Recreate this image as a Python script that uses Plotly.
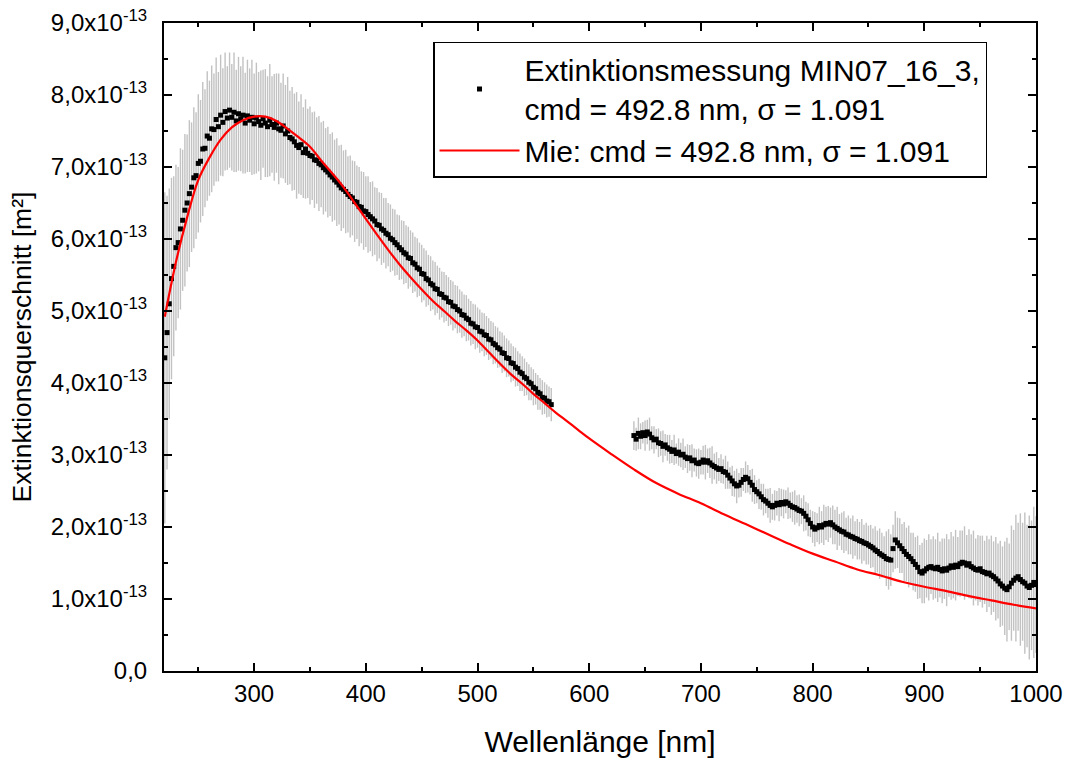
import plotly.graph_objects as go

# ---------------- data (values in units of 1e-13 m^2) ----------------
# Measurement, segment 1 (220 ... 566 nm, 2 nm steps)
wl_meas_1 = list(range(220, 567, 2))
ext_meas_1 = [
    4.35, 4.70, 5.10, 5.45, 5.62, 5.88, 5.95, 6.14, 6.26, 6.40,
    6.50, 6.63, 6.72, 6.85, 6.88, 7.05, 7.08, 7.25, 7.26, 7.43,
    7.40, 7.53, 7.52, 7.66, 7.56, 7.72, 7.62, 7.77, 7.68, 7.79,
    7.69, 7.76, 7.64, 7.74, 7.67, 7.72, 7.61, 7.71, 7.65, 7.69,
    7.60, 7.68, 7.63, 7.58, 7.67, 7.61, 7.56, 7.65, 7.59, 7.55,
    7.61, 7.53, 7.51, 7.57, 7.46, 7.50, 7.41, 7.39, 7.35, 7.30,
    7.27, 7.31, 7.20, 7.25, 7.19, 7.16, 7.15, 7.10, 7.09, 7.05,
    7.03, 6.99, 6.96, 6.93, 6.89, 6.86, 6.82, 6.79, 6.75, 6.71,
    6.69, 6.66, 6.62, 6.59, 6.57, 6.52, 6.51, 6.45, 6.44, 6.39,
    6.38, 6.34, 6.31, 6.28, 6.25, 6.20, 6.19, 6.14, 6.12, 6.08,
    6.06, 6.01, 5.99, 5.95, 5.92, 5.88, 5.85, 5.81, 5.79, 5.74,
    5.73, 5.67, 5.65, 5.60, 5.58, 5.52, 5.51, 5.45, 5.43, 5.38,
    5.36, 5.31, 5.30, 5.24, 5.23, 5.19, 5.18, 5.13, 5.12, 5.07,
    5.06, 5.02, 5.00, 4.95, 4.94, 4.90, 4.88, 4.83, 4.82, 4.78,
    4.77, 4.72, 4.71, 4.67, 4.66, 4.61, 4.60, 4.55, 4.53, 4.49,
    4.47, 4.42, 4.41, 4.35, 4.34, 4.28, 4.27, 4.22, 4.20, 4.15,
    4.13, 4.08, 4.06, 4.01, 3.99, 3.94, 3.92, 3.87, 3.85, 3.80,
    3.79, 3.75, 3.74, 3.70,
]
err_meas_1 = [
    2.3, 1.9, 1.6, 1.4, 1.25, 1.15,
    1.05, 1.12, 0.98, 1.06, 0.95, 1.02, 0.9, 0.98, 0.88, 0.96,
    0.85, 0.93, 0.82, 0.9, 0.8, 0.88, 0.78, 0.86, 0.76, 0.84,
    0.75, 0.82, 0.72, 0.8, 0.74, 0.83, 0.71, 0.79, 0.73, 0.81, 0.7, 0.78, 0.72, 0.8, 0.7,
    0.77, 0.69, 0.76, 0.68, 0.75, 0.7, 0.78, 0.67, 0.74, 0.69,
    0.77, 0.66, 0.73, 0.68, 0.75, 0.65, 0.72, 0.67, 0.74, 0.64,
    0.7, 0.63, 0.69, 0.62, 0.68, 0.61, 0.67, 0.6, 0.66, 0.59,
    0.65, 0.58, 0.63, 0.57, 0.62, 0.56, 0.61, 0.55, 0.6, 0.54,
    0.58, 0.53, 0.57, 0.52, 0.56, 0.51, 0.55, 0.5, 0.54, 0.49,
    0.53, 0.48, 0.52, 0.47, 0.51, 0.46, 0.5, 0.45, 0.49, 0.44,
    0.47, 0.43, 0.46, 0.42, 0.45, 0.41, 0.44, 0.4, 0.43, 0.39,
    0.42, 0.38, 0.41, 0.37, 0.4, 0.36, 0.39, 0.35, 0.38, 0.34,
    0.37, 0.33, 0.36, 0.32, 0.35, 0.32, 0.34, 0.31, 0.34, 0.3,
    0.33, 0.3, 0.32, 0.29, 0.32, 0.29, 0.31, 0.28, 0.31, 0.28,
    0.3, 0.27, 0.3, 0.27, 0.29, 0.26, 0.29, 0.26, 0.28, 0.25,
    0.28, 0.25, 0.27, 0.25, 0.27, 0.24, 0.27, 0.24, 0.26, 0.24,
    0.26, 0.23, 0.25, 0.23, 0.25, 0.22, 0.24, 0.22, 0.24, 0.22, 0.23, 0.21, 0.23,
]

# Measurement, segment 2 (640 ... 1000 nm, 2 nm steps)
wl_meas_2 = list(range(640, 1001, 2))
ext_meas_2 = [
    3.27, 3.22, 3.30, 3.26, 3.31, 3.27, 3.32, 3.29, 3.24, 3.21,
    3.22, 3.17, 3.16, 3.12, 3.14, 3.10, 3.08, 3.05, 3.07, 3.02,
    3.04, 3.00, 3.01, 2.97, 2.95, 2.96, 2.92, 2.93, 2.89, 2.88,
    2.90, 2.93, 2.90, 2.92, 2.89, 2.86, 2.84, 2.82, 2.80, 2.81,
    2.77, 2.76, 2.72, 2.68, 2.64, 2.60, 2.57, 2.58, 2.62, 2.66,
    2.69, 2.67, 2.62, 2.58, 2.52, 2.49, 2.46, 2.42, 2.38, 2.36,
    2.33, 2.30, 2.28, 2.30, 2.33, 2.31, 2.34, 2.32, 2.35, 2.33,
    2.30, 2.28, 2.27, 2.25, 2.23, 2.22, 2.19, 2.15, 2.10, 2.05,
    2.00, 1.97, 1.99, 2.02, 2.00, 2.03, 2.05, 2.04, 2.06, 2.03,
    2.00, 1.98, 1.96, 1.94, 1.93, 1.90, 1.89, 1.87, 1.86, 1.84,
    1.83, 1.81, 1.80, 1.78, 1.77, 1.75, 1.73, 1.71, 1.68, 1.66,
    1.63, 1.61, 1.59, 1.56, 1.55, 1.54, 1.70, 1.82, 1.78, 1.74,
    1.70, 1.66, 1.62, 1.59, 1.56, 1.52, 1.48, 1.44, 1.38, 1.36,
    1.39, 1.42, 1.44, 1.45, 1.43, 1.42, 1.44, 1.41, 1.39, 1.42,
    1.40, 1.43, 1.46, 1.44, 1.47, 1.45, 1.49, 1.51, 1.50, 1.47,
    1.49, 1.45, 1.43, 1.41, 1.40, 1.42, 1.38, 1.37, 1.35, 1.36,
    1.33, 1.31, 1.28, 1.25, 1.21, 1.18, 1.15, 1.13, 1.17, 1.22,
    1.26, 1.29, 1.31, 1.27, 1.24, 1.22, 1.18, 1.16, 1.19, 1.23,
    1.20,
]
err_meas_2 = [
    0.2, 0.16, 0.22, 0.18, 0.15, 0.21, 0.17, 0.23, 0.16, 0.19, 0.14, 0.2, 0.17, 0.22, 0.15, 0.18,
    0.2, 0.16, 0.21, 0.14, 0.19, 0.17, 0.22, 0.15, 0.2, 0.18, 0.23, 0.16, 0.19, 0.21, 0.17,
    0.2, 0.24, 0.17, 0.21, 0.26, 0.18, 0.22, 0.16, 0.2, 0.17, 0.23, 0.19, 0.15, 0.21, 0.18,
    0.24, 0.17, 0.2, 0.16, 0.22, 0.19, 0.17, 0.23, 0.2, 0.16, 0.21, 0.18, 0.22, 0.17, 0.2,
    0.24, 0.18, 0.21, 0.17, 0.23, 0.19, 0.2, 0.16, 0.22, 0.18, 0.21, 0.24, 0.19, 0.22, 0.18,
    0.25, 0.2, 0.23, 0.19, 0.22,
    0.24, 0.2, 0.26, 0.22, 0.28, 0.23, 0.25, 0.21, 0.27, 0.24, 0.3, 0.22, 0.26, 0.29, 0.23,
    0.27, 0.25, 0.3, 0.24, 0.28, 0.26, 0.31, 0.25, 0.29, 0.27,
    0.3, 0.27, 0.33, 0.29, 0.35, 0.31, 0.28, 0.38, 0.42, 0.36, 0.33, 0.4, 0.35, 0.38, 0.34,
    0.41, 0.37, 0.43, 0.36, 0.4, 0.38, 0.44, 0.37, 0.42, 0.45,
    0.4, 0.46, 0.38, 0.44, 0.41, 0.48, 0.39, 0.45, 0.42, 0.5, 0.4, 0.47, 0.43, 0.49, 0.41,
    0.46, 0.44, 0.51, 0.42, 0.48, 0.45, 0.52, 0.43, 0.49, 0.46,
    0.5, 0.44, 0.53, 0.47, 0.55, 0.49, 0.58, 0.52, 0.6, 0.55,
    0.65, 0.72, 0.6, 0.8, 0.7, 0.88, 0.75, 0.92, 0.82, 0.98, 0.85, 1.0, 0.9, 1.05, 0.95,
]

# Mie calculation
wl_mie = list(range(220, 601, 10)) + list(range(620, 1001, 20))
ext_mie = [
    4.92, 5.68, 6.30, 6.82, 7.13, 7.38, 7.55, 7.65, 7.70, 7.70,
    7.64, 7.53, 7.41, 7.28, 7.09, 6.91, 6.72, 6.50, 6.28, 6.06,
    5.85, 5.65, 5.47, 5.30, 5.14, 5.00, 4.86, 4.73, 4.59, 4.43,
    4.27, 4.12, 3.99, 3.85, 3.72, 3.59, 3.47, 3.35, 3.23,
    3.01, 2.80, 2.61, 2.46, 2.33, 2.18, 2.04, 1.90, 1.76, 1.63,
    1.52, 1.41, 1.33, 1.24, 1.17, 1.11, 1.04, 0.98, 0.92, 0.87,
]

y_tickvals = [0, 1, 2, 3, 4, 5, 6, 7, 8, 9]
y_ticktext = ["0,0"] + [f"{v},0x10<sup>-13</sup>" for v in range(1, 10)]

label_meas = "Extinktionsmessung MIN07_16_3,<br>cmd = 492.8 nm, σ = 1.091"
label_mie = "Mie: cmd = 492.8 nm, σ = 1.091"

for a, b in [(wl_meas_1, ext_meas_1), (wl_meas_1, err_meas_1),
             (wl_meas_2, ext_meas_2), (wl_meas_2, err_meas_2), (wl_mie, ext_mie)]:
    if len(a) != len(b):
        raise ValueError(f"length mismatch {len(a)} vs {len(b)}")

# ---------------- figure ----------------
fig = go.Figure()
meas_style = dict(
    mode="markers",
    marker=dict(symbol="square", size=5, color="black"),
    legendgroup="meas",
)
err_style = dict(type="data", color="#c2c2c2", thickness=1.4, width=0)
fig.add_trace(go.Scatter(
    x=wl_meas_1, y=ext_meas_1, name=label_meas,
    error_y=dict(array=err_meas_1, **err_style),
    showlegend=True, **meas_style))
fig.add_trace(go.Scatter(
    x=wl_meas_2, y=ext_meas_2, name=label_meas,
    error_y=dict(array=err_meas_2, **err_style),
    showlegend=False, **meas_style))
fig.add_trace(go.Scatter(
    x=wl_mie, y=ext_mie, name=label_mie, mode="lines",
    line=dict(color="#ff0000", width=2.2, shape="spline"),
))

axis_common = dict(
    showline=True, linewidth=2, linecolor="black", mirror="ticks",
    ticks="inside", ticklen=8, tickwidth=2, tickcolor="black",
    showgrid=False, zeroline=False, automargin=False,
    tickfont=dict(size=24, color="black"),
)
fig.update_xaxes(
    range=[219.3, 1000], tickmode="linear", tick0=0, dtick=100,
    minor=dict(ticks="inside", ticklen=4, tickwidth=2, tickcolor="black", dtick=50, tick0=0),
    title=dict(text="Wellenlänge [nm]", font=dict(size=30, color="black"), standoff=25),
    **axis_common,
)
fig.update_yaxes(
    range=[0, 9], tickmode="array", tickvals=y_tickvals, ticktext=y_ticktext,
    minor=dict(ticks="inside", ticklen=4, tickwidth=2, tickcolor="black", dtick=0.5, tick0=0),
    ticklabelstandoff=10,
    title=dict(text="Extinktionsquerschnitt [m²]", font=dict(size=26.5, color="black"), standoff=12),
    **axis_common,
)
fig.update_layout(
    width=1068, height=760,
    margin=dict(l=164, r=32, t=23, b=89),
    paper_bgcolor="white", plot_bgcolor="white",
    font=dict(family="Liberation Sans, Arial, sans-serif", color="black"),
    legend=dict(
        x=0.3085, y=0.9707, xanchor="left", yanchor="top",
        bgcolor="white", bordercolor="black", borderwidth=1.5,
        font=dict(size=30, color="black"), itemwidth=80,
        tracegroupgap=0,
    ),
)

fig.write_html("out.html")
